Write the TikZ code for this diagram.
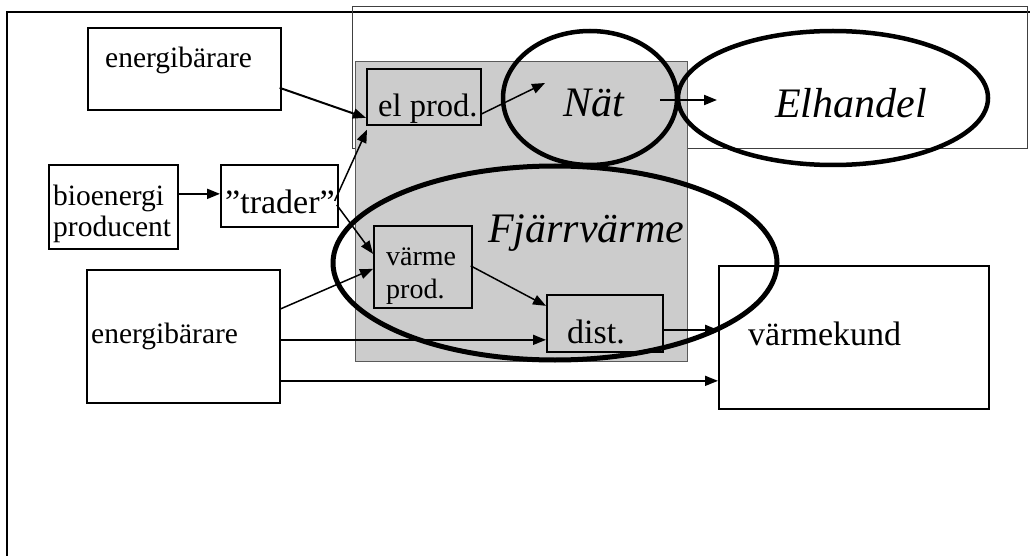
\documentclass[tikz,border=0pt]{standalone}
\usepackage{fontspec}
\setmainfont{Liberation Serif}
\usetikzlibrary{arrows.meta,shapes.geometric,calc}
\definecolor{grayfill}{RGB}{204,204,204}
\definecolor{grayline}{RGB}{90,90,90}
\begin{document}
\begin{tikzpicture}[x=1pt,y=-1pt,
  box/.style={draw=black, line width=1.7pt, inner sep=0pt, anchor=north west},
  ring/.style={draw=black, ellipse, inner sep=0pt, line width=4.5pt},
  txt/.style={anchor=base west, inner sep=0pt},
  fsmall/.style={font=\fontsize{29.5}{31}\selectfont},
  fmid/.style={font=\fontsize{34}{36}\selectfont},
  fbig/.style={font=\fontsize{42}{44}\selectfont\itshape},
  arr/.style={-{Triangle[length=13pt,width=10pt]}, line width=1.5pt},
  arrthick/.style={-{Triangle[length=13pt,width=10pt]}, line width=2pt}
]
\fill[white] (0,0) rectangle (1030,556);
\useasboundingbox (0,0) rectangle (1030,556);
\clip (0,0) rectangle (1030,556);

% outer frame (continues past the page)
\draw[line width=2pt] (7,12.5) rectangle (1045,575);
% thin frame round the electricity part
\draw[line width=1pt, draw=black!75] (352,7) rectangle (1027,149);
% grey area
\node[draw=grayline, fill=grayfill, line width=1pt, anchor=north west, inner sep=0pt,
      minimum width=332pt, minimum height=300pt] (grey) at (355,61) {};

% boxes
\node[box, minimum width=193pt, minimum height=82pt]  (ebTop)  at (87,27)   {};
\node[box, minimum width=129pt, minimum height=84pt]  (bio)    at (48,164)  {};
\node[box, minimum width=117pt, minimum height=62pt]  (trader) at (220,164) {};
\node[box, minimum width=114pt, minimum height=56pt]  (elprod) at (366,68)  {};
\node[box, minimum width=98pt,  minimum height=82pt]  (varme)  at (373,225) {};
\node[box, minimum width=116pt, minimum height=57pt]  (dist)   at (546,294) {};
\node[box, minimum width=270pt, minimum height=143pt] (kund)   at (718,265) {};
\node[box, minimum width=193pt, minimum height=133pt] (ebLow)  at (86,269)  {};

% texts
\node[txt, fsmall] (tEbTop) at (105,68)  {energibärare};
\node[txt, fsmall] (tBio1)  at (53,205)  {bioenergi};
\node[txt, fsmall] (tBio2)  at (53,236)  {producent};
\node[txt, fmid]   (tTrad)  at (225,213) {”trader”};
\node[txt, font=\fontsize{32.5}{34}\selectfont] (tEl) at (378,117) {el prod.};
\node[txt, font=\fontsize{28}{30}\selectfont] (tV1) at (386,265) {värme};
\node[txt, font=\fontsize{28}{30}\selectfont] (tV2) at (386,298) {prod.};
\node[txt, fmid]   (tDist)  at (567,343) {dist.};
\node[txt, fmid]   (tKund)  at (748,345) {värmekund};
\node[txt, fsmall] (tEbLow) at (91,343)  {energibärare};
\node[txt, fbig]   (tNat)   at (563,117) {Nät};
\node[txt, fbig]   (tElh)   at (775,118) {Elhandel};
\node[txt, fbig]   (tFjv)   at (488,242) {Fjärrvärme};

% rings
\node[ring, minimum width=174pt, minimum height=134pt] (nat) at (590,98) {};
\node[ring, minimum width=310pt, minimum height=134pt] (elh) at (833,98) {};
\node[ring, line width=5pt, minimum width=444pt, minimum height=194pt] (fjv) at (555,263) {};

% connectors
\draw[arrthick] ($(ebTop.east)+(-2,19)$) -- ($(elprod.west)+(0,21)$);
\draw[arrthick] ($(bio.east)+(0,-13)$) -- ($(trader.west)+(0,-2)$);
\draw[arr] ($(trader.east)+(-4,5)$) -- ($(elprod.south west)+(1,4)$);
\draw[arr] ($(trader.east)+(-2,9)$) -- ($(varme.west)+(0,-13)$);
\draw[arr] ($(ebLow.east)+(0,-27.5)$) -- ($(varme.west)+(0,2)$);
\draw[arr] ($(ebLow.east)+(0,3.5)$) -- ($(dist.west)+(0,16.5)$);
\draw[arr] ($(ebLow.east)+(0,44.5)$) -- ($(kund.west)+(0,43.5)$);
\draw[arr] ($(varme.east)+(-2,-1)$) -- ($(dist.west)+(0,-17.5)$);
\draw[arr] ($(dist.east)+(0,6.5)$) -- ($(kund.west)+(0,-7.5)$);
\draw[arr] ($(elprod.east)+(0,17)$) -- ($(nat.center)+(-45,-15)$);
\draw[arrthick] ($(nat.center)+(70,2)$) -- ($(elh.center)+(-116,2)$);
\end{tikzpicture}
\end{document}
